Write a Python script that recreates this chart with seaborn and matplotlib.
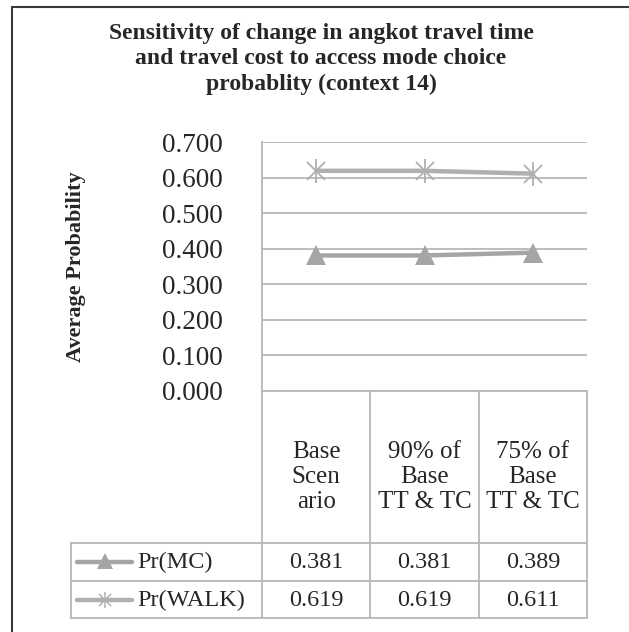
"""Sensitivity of angkot travel time / cost on access mode choice, line chart with data table."""

import matplotlib

matplotlib.use("Agg")
import pandas as pd
import seaborn as sns
from matplotlib import pyplot as plt
from matplotlib.lines import Line2D

# ---- data ---------------------------------------------------------------
scenarios = ["Base\nScen\nario", "90% of\nBase\nTT & TC", "75% of\nBase\nTT & TC"]
series_names = ["Pr(MC)", "Pr(WALK)"]
pr_mc = [0.381, 0.381, 0.389]
pr_walk = [0.619, 0.619, 0.611]
y_ticks = [0.0, 0.1, 0.2, 0.3, 0.4, 0.5, 0.6, 0.7]
title = "Sensitivity of change in angkot travel time\nand travel cost to access mode choice\nprobablity (context 14)"
ylabel = "Average Probability"

# ---- style --------------------------------------------------------------
sns.set_theme(style="white")
plt.rcParams["font.family"] = ["Liberation Serif", "DejaVu Serif"]

GRID = "#b8b8b8"
MC_COLOR = "#a5a5a5"
WALK_COLOR = "#b0b0b0"
FRAME = "#3a3a3a"

W, H = 629, 632


def fx(px):
    return px / W


def fy(py):
    return 1 - py / H


df = pd.DataFrame(
    {
        "scenario": list(range(len(scenarios))) * 2,
        "value": pr_mc + pr_walk,
        "series": [series_names[0]] * len(pr_mc) + [series_names[1]] * len(pr_walk),
    }
)

fig = plt.figure(figsize=(W / 100, H / 100), dpi=100)

# plot area
ax = fig.add_axes([fx(262), fy(391), fx(587) - fx(262), fy(142) - fy(391)])
sns.lineplot(
    data=df[df.series == series_names[0]], x="scenario", y="value", ax=ax,
    color=MC_COLOR, lw=3.2, marker="^", markersize=15, markeredgewidth=0,
    markeredgecolor=MC_COLOR, legend=False,
)
sns.lineplot(
    data=df[df.series == series_names[1]], x="scenario", y="value", ax=ax,
    color=WALK_COLOR, lw=3.2, marker="x", markersize=13, markeredgewidth=1.3,
    markeredgecolor=WALK_COLOR, legend=False,
)
ax.plot(range(len(pr_walk)), pr_walk, ls="none", marker="|", markersize=17,
        markeredgewidth=1.3, color=WALK_COLOR)

ax.set_xlim(-0.5, len(scenarios) - 0.5)
ax.set_ylim(0, 0.7)
ax.set_yticks(y_ticks)
ax.set_yticklabels([f"{v:.3f}" for v in y_ticks], fontsize=19.5)
ax.set_xticks([])
ax.set_xlabel("")
ax.set_ylabel(ylabel, fontsize=16, fontweight="bold")
ax.yaxis.set_label_coords((86 - 262) / (587 - 262), 0.5)
ax.tick_params(axis="y", length=0, pad=28)
ax.grid(axis="y", color=GRID, lw=1.3)
for side in ["top", "right", "bottom"]:
    ax.spines[side].set_visible(False)
ax.spines["left"].set_color(GRID)
ax.spines["left"].set_linewidth(1.3)

# data table under the plot
col_w = (587 - 262) / len(scenarios)
x_left = -0.5 - (262 - 71) / col_w
tab = fig.add_axes([fx(71), fy(618), fx(587) - fx(71), fy(391) - fy(618)])
tab.set_xlim(x_left, len(scenarios) - 0.5)
tab.set_ylim(618, 391)
tab.axis("off")

rows_y = [543, 581, 618]
tab.plot([-0.5, len(scenarios) - 0.5], [391, 391], color=GRID, lw=1.3, clip_on=False)
for yy in rows_y:
    tab.plot([x_left, len(scenarios) - 0.5], [yy, yy], color=GRID, lw=1.3, clip_on=False)
for i in range(len(scenarios) + 1):
    tab.plot([i - 0.5, i - 0.5], [391, 618], color=GRID, lw=1.3, clip_on=False)
tab.plot([x_left, x_left], [543, 618], color=GRID, lw=1.3, clip_on=False)

for i, lab in enumerate(scenarios):
    tab.text(i, 477, lab, ha="center", va="center", fontsize=18, linespacing=1.17)

row_centers = [562, 600]
for vals, name, yc in zip([pr_mc, pr_walk], series_names, row_centers):
    for i, v in enumerate(vals):
        tab.text(i, yc, f"{v:.3f}", ha="center", va="center", fontsize=17.5)
    tab.text(x_left + (137 - 71) / col_w, yc, name, ha="left", va="center", fontsize=17.5)

# legend keys inside the table
kx0 = x_left + (77 - 71) / col_w
kx1 = x_left + (132 - 71) / col_w
kxm = (kx0 + kx1) / 2
tab.add_line(Line2D([kx0, kx1], [row_centers[0], row_centers[0]], color=MC_COLOR, lw=3.2,
                    solid_capstyle="round"))
tab.plot([kxm], [row_centers[0] - 1], marker="^", markersize=11, color=MC_COLOR, mew=0)
tab.add_line(Line2D([kx0, kx1], [row_centers[1], row_centers[1]], color=WALK_COLOR, lw=3.2,
                    solid_capstyle="round"))
tab.plot([kxm], [row_centers[1]], marker="x", markersize=9, color=WALK_COLOR, mew=1.1)
tab.plot([kxm], [row_centers[1]], marker="|", markersize=11, color=WALK_COLOR, mew=1.1)

# title
fig.text(fx(321), fy(23), title, ha="center", va="top", fontsize=17, fontweight="bold",
         linespacing=1.28)

# outer chart border (top and left edges visible)
fig.add_artist(Line2D([fx(12), 1], [fy(7), fy(7)], color=FRAME, lw=1.5))
fig.add_artist(Line2D([fx(12), fx(12)], [fy(7), 0], color=FRAME, lw=1.5))

fig.savefig("out.png", dpi=100)
